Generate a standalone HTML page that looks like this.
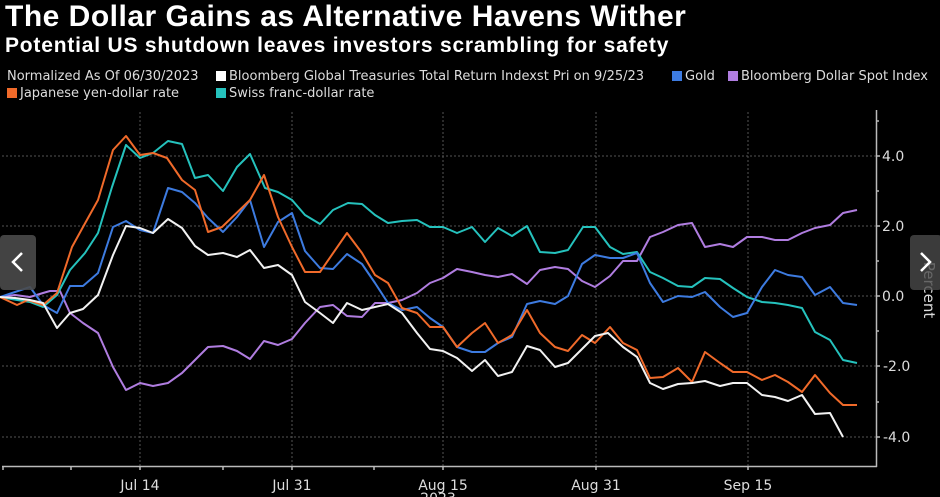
<!DOCTYPE html>
<html><head><meta charset="utf-8"><style>
html,body{margin:0;padding:0;background:#000;}
body{width:940px;height:497px;overflow:hidden;position:relative;font-family:"Liberation Sans","DejaVu Sans",sans-serif;color:#fff;}
.t{position:absolute;left:5px;top:0px;font-size:30px;letter-spacing:0.5px;font-weight:bold;white-space:nowrap;}
.s{position:absolute;left:5px;top:34px;font-size:21px;letter-spacing:0.8px;font-weight:bold;white-space:nowrap;}
.lg{position:absolute;font-family:"DejaVu Sans",sans-serif;font-size:13px;color:#ddd;white-space:nowrap;}
.sq{display:inline-block;width:10px;height:10px;margin-right:3px;vertical-align:-1px;}
</style></head><body>
<div class="t">The Dollar Gains as Alternative Havens Wither</div>
<div class="s">Potential US shutdown leaves investors scrambling for safety</div>
<div class="lg" style="left:7px;top:69px">Normalized As Of 06/30/2023</div>
<div class="lg" style="left:216px;top:69px"><span class="sq" style="background:#fff"></span>Bloomberg Global Treasuries Total Return Indexst Pri on 9/25/23</div>
<div class="lg" style="left:672px;top:69px"><span class="sq" style="background:#3d7be0"></span>Gold</div>
<div class="lg" style="left:728px;top:69px"><span class="sq" style="background:#b07de0"></span>Bloomberg Dollar Spot Index</div>
<div class="lg" style="left:7px;top:86px"><span class="sq" style="background:#f06a2a"></span>Japanese yen-dollar rate</div>
<div class="lg" style="left:216px;top:86px"><span class="sq" style="background:#25c2bd"></span>Swiss franc-dollar rate</div>
<svg width="940" height="497" style="position:absolute;left:0;top:0" font-family="DejaVu Sans, sans-serif">
<g stroke="#555" stroke-dasharray="2,2" stroke-width="1">
<line x1="2" x2="876" y1="156" y2="156"/><line x1="2" x2="876" y1="226" y2="226"/><line x1="2" x2="876" y1="296" y2="296"/><line x1="2" x2="876" y1="366" y2="366"/><line x1="2" x2="876" y1="437" y2="437"/>
<line x1="140" x2="140" y1="112" y2="466"/><line x1="292" x2="292" y1="112" y2="466"/><line x1="443" x2="443" y1="112" y2="466"/><line x1="596" x2="596" y1="112" y2="466"/><line x1="748" x2="748" y1="112" y2="466"/>
</g>
<g stroke="#bbb" stroke-width="1.5" fill="none">
<line x1="2" x2="877" y1="466.5" y2="466.5"/><line x1="876.5" x2="876.5" y1="110" y2="467"/>
<line x1="3" y1="466" x2="3" y2="470"/><line x1="71" y1="466" x2="71" y2="470"/><line x1="223" y1="466" x2="223" y2="470"/><line x1="374" y1="466" x2="374" y2="470"/><line x1="140" y1="466" x2="140" y2="470"/><line x1="292" y1="466" x2="292" y2="470"/><line x1="443" y1="466" x2="443" y2="470"/><line x1="596" y1="466" x2="596" y2="470"/><line x1="748" y1="466" x2="748" y2="470"/>
<line x1="876" x2="880" y1="156" y2="156"/><line x1="876" x2="880" y1="226" y2="226"/><line x1="876" x2="880" y1="296" y2="296"/><line x1="876" x2="880" y1="366" y2="366"/><line x1="876" x2="880" y1="437" y2="437"/>
<line x1="876" x2="879" y1="121" y2="121"/><line x1="876" x2="879" y1="191" y2="191"/><line x1="876" x2="879" y1="261" y2="261"/><line x1="876" x2="879" y1="331" y2="331"/><line x1="876" x2="879" y1="402" y2="402"/>
</g>
<g fill="#ddd" font-size="14">
<text x="882" y="161">4.0</text><text x="882" y="231">2.0</text><text x="882" y="301">0.0</text><text x="883" y="371">-2.0</text><text x="883" y="442">-4.0</text>
<text x="140" y="490" text-anchor="middle">Jul 14</text><text x="292" y="490" text-anchor="middle">Jul 31</text><text x="443" y="490" text-anchor="middle">Aug 15</text><text x="596" y="490" text-anchor="middle">Aug 31</text><text x="748" y="490" text-anchor="middle">Sep 15</text>
<text x="438" y="503" text-anchor="middle">2023</text>
<text transform="translate(924,290) rotate(90)" text-anchor="middle" font-size="15">Percent</text>
</g>
<g fill="none" stroke-width="2" stroke-linejoin="round">
<polyline stroke="#b07de0" points="0,297 15,295 30,297 43,293 50,291 60,291 70,313 83,323 98,333 113,367 126,390 140,383 153,386 168,383 182,373 195,360 208,347 223,346 237,351 250,359 264,341 278,345 292,339 305,323 320,307 333,305 347,316 362,317 375,303 388,303 402,300 417,293 430,283 443,278 457,269 472,272 485,275 498,277 512,274 527,284 540,270 555,267 568,269 582,281 595,287 610,276 623,261 637,261 650,237 663,232 678,225 692,223 705,247 720,244 733,247 747,237 762,237 775,240 788,240 802,233 815,228 830,225 843,213 857,210"/>
<polyline stroke="#25c2bd" points="0,297 17,300 30,302 43,307 57,295 70,270 85,253 98,233 112,187 126,145 140,158 153,153 168,141 182,144 195,178 208,175 223,191 237,167 250,154 265,188 278,192 292,200 305,215 320,224 333,210 348,203 362,204 375,215 388,223 402,221 417,220 430,227 443,227 457,233 472,227 485,242 498,228 512,236 527,226 540,252 555,253 568,250 583,227 595,227 610,247 623,254 637,252 650,272 663,278 678,286 692,287 705,278 720,279 733,288 747,297 762,302 775,303 788,305 802,308 815,332 830,340 843,360 857,363"/>
<polyline stroke="#3d7be0" points="0,297 15,292 30,287 43,305 57,313 70,286 83,286 98,273 113,227 126,221 140,230 153,233 168,188 182,192 195,203 208,218 223,232 237,217 250,200 264,247 278,222 292,213 305,251 320,268 333,269 347,254 362,264 375,283 388,303 402,310 417,307 430,318 443,327 457,347 472,352 485,352 498,343 512,337 527,304 540,301 555,304 568,296 582,264 595,255 610,258 623,258 637,253 650,283 663,302 678,296 692,297 705,292 720,307 733,317 747,313 762,287 775,270 788,275 802,277 815,295 830,287 843,303 857,305"/>
<polyline stroke="#f06a2a" points="0,297 17,305 28,300 43,305 57,293 72,247 83,227 98,200 113,150 126,136 140,155 153,153 167,158 182,180 195,190 208,232 222,227 250,200 264,175 278,217 292,247 305,272 320,272 347,233 362,253 375,275 388,283 402,308 417,313 430,327 443,327 457,347 472,333 485,323 498,343 512,335 527,310 540,333 555,347 568,351 582,335 595,343 610,327 623,343 637,350 650,378 663,377 678,368 692,382 705,352 720,363 733,372 747,372 762,380 775,375 788,382 802,392 815,375 830,393 843,405 857,405"/>
<polyline stroke="#f2f2f2" points="0,297 15,298 30,300 43,303 57,328 70,313 83,309 98,295 113,255 126,226 140,228 153,233 168,219 182,228 195,246 208,255 223,253 237,257 250,250 264,268 278,265 292,275 305,302 320,313 333,323 347,303 362,310 375,307 388,304 402,313 417,333 430,349 443,351 457,358 472,371 485,360 498,376 512,372 527,346 540,350 555,367 568,363 583,348 595,336 608,333 623,347 637,357 650,383 663,389 678,384 692,383 705,381 720,386 733,383 747,383 762,395 775,397 788,401 802,395 815,414 830,413 843,437"/>
</g>
<rect x="0" y="235" width="36" height="55" rx="4" fill="#4a4a4a" opacity="0.9"/>
<polyline points="22,253 13,262 22,271" fill="none" stroke="#fff" stroke-width="2.5"/>
<rect x="910" y="235" width="32" height="55" rx="4" fill="#4a4a4a" opacity="0.8"/>
<polyline points="921,253 930,262 921,271" fill="none" stroke="#fff" stroke-width="2.5"/>
</svg>
</body></html>
